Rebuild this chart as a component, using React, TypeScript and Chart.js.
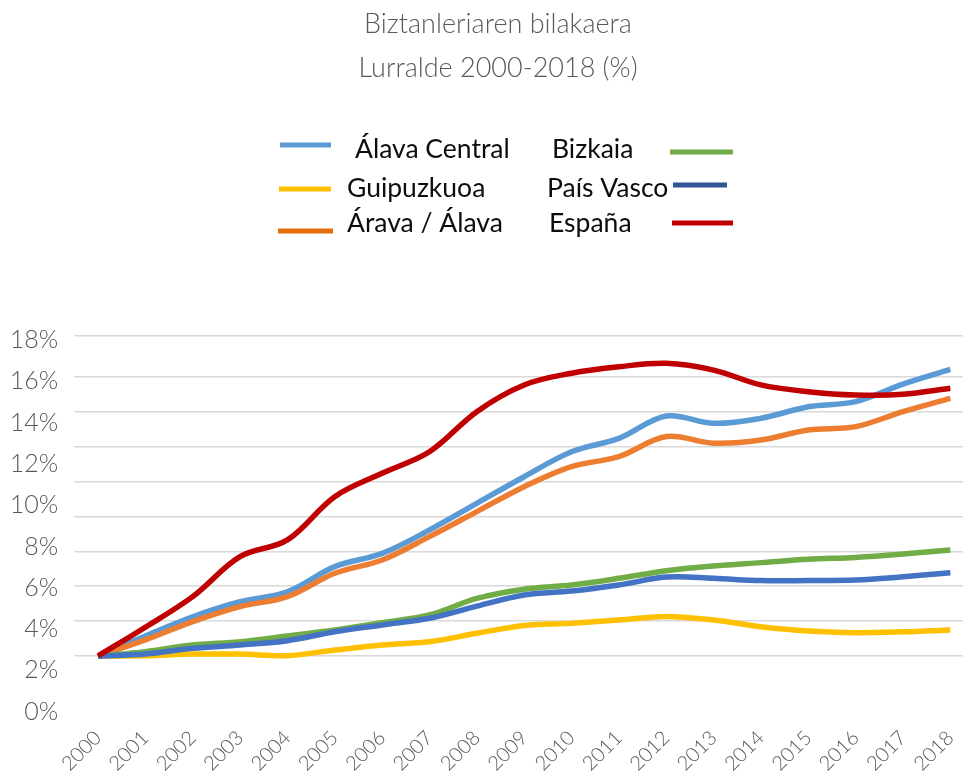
import React, { useEffect, useRef } from 'react';
import { Chart, registerables } from 'chart.js';

Chart.register(...registerables);

const years = ['2000','2001','2002','2003','2004','2005','2006','2007','2008','2009','2010','2011','2012','2013','2014','2015','2016','2017','2018'];

const alavaCentral = [0, 1.15, 2.25, 3.11, 3.68, 5.12, 5.88, 7.22, 8.75, 10.27, 11.7, 12.47, 13.75, 13.33, 13.62, 14.28, 14.57, 15.58, 16.42];
const guipuzkuoa = [0, 0.02, 0.11, 0.11, 0.02, 0.34, 0.63, 0.82, 1.3, 1.75, 1.87, 2.06, 2.27, 2.06, 1.68, 1.43, 1.34, 1.39, 1.49];
const aravaAlava = [0, 0.92, 1.97, 2.83, 3.4, 4.74, 5.5, 6.84, 8.27, 9.7, 10.85, 11.42, 12.57, 12.19, 12.37, 12.95, 13.14, 14.0, 14.76];
const bizkaia = [0, 0.25, 0.63, 0.82, 1.15, 1.49, 1.91, 2.35, 3.3, 3.83, 4.07, 4.45, 4.89, 5.16, 5.35, 5.54, 5.65, 5.84, 6.07];
const paisVasco = [0, 0.11, 0.44, 0.63, 0.88, 1.39, 1.78, 2.16, 2.86, 3.5, 3.72, 4.07, 4.52, 4.45, 4.32, 4.32, 4.35, 4.54, 4.77];
const espana = [0, 1.65, 3.4, 5.69, 6.65, 9.13, 10.47, 11.7, 14.0, 15.53, 16.2, 16.57, 16.77, 16.38, 15.53, 15.14, 14.95, 14.99, 15.34];

const yTickLabels = [0, 2, 4, 6, 8, 10, 12, 14, 16, 18];
const gridValues = [0, 2, 4, 6, 8, 10, 12, 14, 16, 18.35];

const titleLines = ['Biztanleriaren bilakaera', 'Lurralde 2000-2018 (%)'];

// legend layout: dataset index, line x1, x2, line y, text x, text baseline
const legendLayout = [
  { i: 0, x1: 280, x2: 331, ly: 145, tx: 355, ty: 158 },
  { i: 3, x1: 670, x2: 733, ly: 152, tx: 552, ty: 158 },
  { i: 1, x1: 279, x2: 331, ly: 189, tx: 347, ty: 197 },
  { i: 4, x1: 673, x2: 727, ly: 185, tx: 547, ty: 197 },
  { i: 2, x1: 278, x2: 333, ly: 231, tx: 347, ty: 232 },
  { i: 5, x1: 672, x2: 733, ly: 223, tx: 549, ty: 232 },
];

const legendPlugin = {
  id: 'customLegend',
  afterDraw(chart: any) {
    const ctx = chart.ctx;
    ctx.save();
    ctx.font = '26.5px Lato';
    ctx.textBaseline = 'alphabetic';
    ctx.textAlign = 'left';
    legendLayout.forEach((it) => {
      const ds = chart.data.datasets[it.i];
      ctx.strokeStyle = ds.legendColor || ds.borderColor;
      ctx.lineWidth = 5;
      ctx.lineCap = 'butt';
      ctx.beginPath();
      ctx.moveTo(it.x1, it.ly);
      ctx.lineTo(it.x2, it.ly);
      ctx.stroke();
      ctx.fillStyle = '#0d0d0d';
      ctx.fillText(ds.label, it.tx, it.ty);
    });
    ctx.restore();
  },
};

export default function App() {
  const ref = useRef<HTMLCanvasElement | null>(null);
  useEffect(() => {
    if (!ref.current) return;
    const mk = (label: string, data: number[], color: string, order: number, legendColor?: string) => ({
      label,
      data,
      borderColor: color,
      backgroundColor: color,
      legendColor: legendColor || color,
      borderWidth: 5.5,
      pointRadius: 0,
      tension: 0.35,
      borderCapStyle: 'butt',
      fill: false,
      order,
      yAxisID: 'y',
    });
    const chart = new Chart(ref.current, {
      type: 'line',
      data: {
        labels: years,
        datasets: [
          mk('Álava Central', alavaCentral, '#5B9BD5', 5),
          mk('Guipuzkuoa', guipuzkuoa, '#FFC000', 4),
          mk('Árava / Álava', aravaAlava, '#ED7D31', 3, '#E46C0A'),
          mk('Bizkaia', bizkaia, '#70AD47', 2),
          mk('País Vasco', paisVasco, '#4472C4', 1, '#2F5597'),
          mk('España', espana, '#C00000', 0),
        ] as any,
      },
      plugins: [legendPlugin],
      options: {
        responsive: false,
        animation: false,
        layout: { padding: { left: 0, right: 0, top: 0, bottom: 0 } },
        plugins: {
          legend: { display: false },
          tooltip: { enabled: false },
          title: {
            display: true,
            text: titleLines,
            color: '#595959',
            font: { family: 'Lato', size: 27, weight: 300, lineHeight: '44px' } as any,
            padding: { top: 2, bottom: 245.7 },
          },
        },
        scales: {
          x: {
            type: 'category',
            offset: true,
            grid: { display: false, drawTicks: false },
            border: { display: false },
            ticks: {
              color: '#595959',
              font: { family: 'Lato', size: 20, weight: 300 },
              minRotation: 45,
              maxRotation: 45,
              padding: 4,
              autoSkip: false,
            },
            afterFit(axis: any) { axis.height = 49; },
          },
          y: {
            type: 'linear',
            position: 'right',
            min: -3.78,
            max: 18.35,
            grid: { color: '#d9d9d9', lineWidth: 1.5, drawTicks: false },
            border: { display: false },
            ticks: { display: false },
            afterBuildTicks(axis: any) { axis.ticks = gridValues.map((v) => ({ value: v })); },
            afterFit(axis: any) { axis.width = 22; },
          },
          yl: {
            type: 'linear',
            position: 'left',
            min: -0.5,
            max: 18.21,
            grid: { display: false, drawTicks: false },
            border: { display: false },
            ticks: {
              color: '#595959',
              font: { family: 'Lato', size: 25, weight: 300 },
              padding: 16,
              callback: (v: any) => v + '%',
            },
            afterBuildTicks(axis: any) { axis.ticks = yTickLabels.map((v) => ({ value: v })); },
            afterFit(axis: any) { axis.width = 74.3; },
          },
        },
      } as any,
    });
    return () => chart.destroy();
  }, []);
  return (
    <div style={{ position: 'absolute', left: 0, top: 0, width: 963, height: 771, overflow: 'hidden', background: '#fff' }}>
      <canvas ref={ref} width={996} height={771} style={{ display: 'block' }} />
    </div>
  );
}
